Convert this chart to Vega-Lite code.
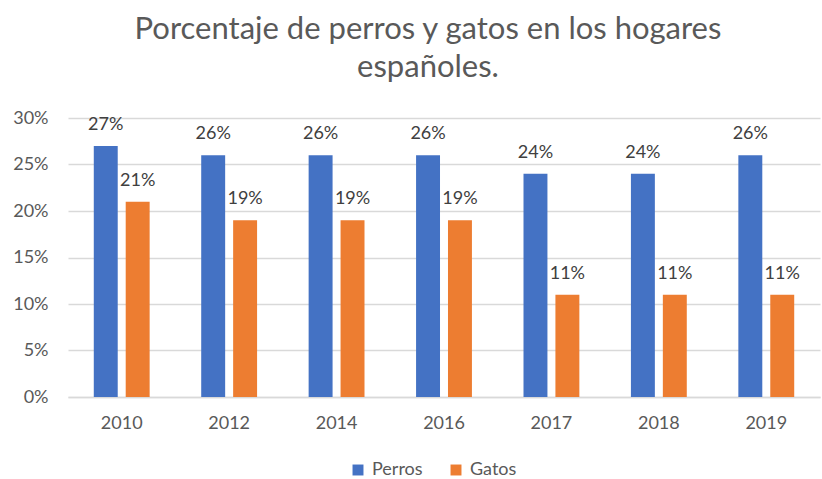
{
  "$schema": "https://vega.github.io/schema/vega-lite/v6.json",
  "autosize": "none",
  "width": 752,
  "height": 279,
  "padding": {"left": 68, "top": 118, "right": 2, "bottom": 82},
  "background": "white",
  "title": {
    "text": ["Porcentaje de perros y gatos en los hogares", "españoles."],
    "font": "Lato",
    "fontSize": 31,
    "fontWeight": "normal",
    "color": "#595959",
    "anchor": "middle",
    "dx": -16,
    "lineHeight": 38,
    "offset": 25
  },
  "config": {
    "view": {"stroke": null},
    "font": "Lato"
  },
  "data": {
    "values": [
      {"year": "2010", "animal": "Perros", "value": 0.27},
      {"year": "2010", "animal": "Gatos", "value": 0.21},
      {"year": "2012", "animal": "Perros", "value": 0.26},
      {"year": "2012", "animal": "Gatos", "value": 0.19},
      {"year": "2014", "animal": "Perros", "value": 0.26},
      {"year": "2014", "animal": "Gatos", "value": 0.19},
      {"year": "2016", "animal": "Perros", "value": 0.26},
      {"year": "2016", "animal": "Gatos", "value": 0.19},
      {"year": "2017", "animal": "Perros", "value": 0.24},
      {"year": "2017", "animal": "Gatos", "value": 0.11},
      {"year": "2018", "animal": "Perros", "value": 0.24},
      {"year": "2018", "animal": "Gatos", "value": 0.11},
      {"year": "2019", "animal": "Perros", "value": 0.26},
      {"year": "2019", "animal": "Gatos", "value": 0.11}
    ]
  },
  "encoding": {
    "x": {
      "field": "year", "type": "nominal", "title": null,
      "scale": {"paddingInner": 0.48, "paddingOuter": 0.24},
      "axis": {
        "labelAngle": 0, "labelFontSize": 18, "labelColor": "#595959",
        "labelPadding": 17, "ticks": false, "domainColor": "#D9D9D9", "domainWidth": 1.5
      }
    },
    "xOffset": {
      "field": "animal", "type": "nominal",
      "sort": ["Perros", "Gatos"],
      "scale": {"paddingInner": 0.25}
    },
    "y": {
      "field": "value", "type": "quantitative", "title": null,
      "scale": {"domain": [0, 0.3], "nice": false},
      "axis": {
        "values": [0, 0.05, 0.1, 0.15, 0.2, 0.25, 0.3],
        "format": ".0%", "labelFontSize": 18, "labelColor": "#595959",
        "labelPadding": 20, "ticks": false, "domain": false,
        "gridColor": "#D9D9D9", "gridWidth": 1.5
      }
    }
  },
  "layer": [
    {
      "mark": {"type": "bar"},
      "encoding": {
        "color": {
          "field": "animal", "type": "nominal", "title": null,
          "sort": ["Perros", "Gatos"],
          "scale": {"domain": ["Perros", "Gatos"], "range": ["#4472C4", "#ED7D31"]},
          "legend": {
            "orient": "none", "direction": "horizontal",
            "legendX": 281, "legendY": 343,
            "symbolType": "square", "symbolSize": 120, "symbolStrokeWidth": 0,
            "labelFontSize": 18, "labelColor": "#595959",
            "columnPadding": 24, "labelOffset": 5
          }
        }
      }
    },
    {
      "mark": {"type": "text", "baseline": "alphabetic", "dy": -16, "fontSize": 18, "color": "#404040"},
      "encoding": {
        "text": {"field": "value", "type": "quantitative", "format": ".0%"}
      }
    }
  ]
}
